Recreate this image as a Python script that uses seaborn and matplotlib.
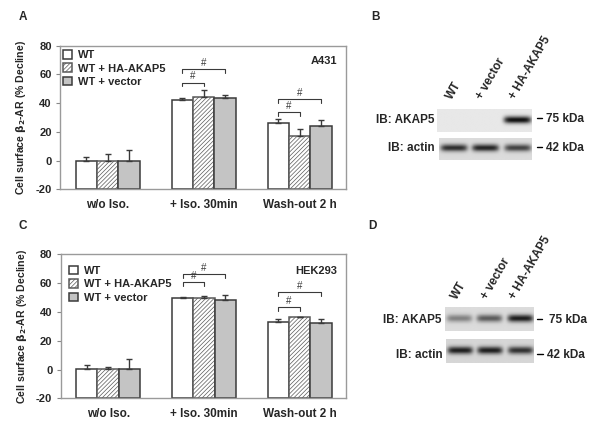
import numpy as np
import pandas as pd
import matplotlib
matplotlib.use('Agg')
import matplotlib.pyplot as plt
import seaborn as sns

# ---- data ----
conditions = ['w/o Iso.', '+ Iso. 30min', 'Wash-out 2 h']
groups = ['WT', 'WT + HA-AKAP5', 'WT + vector']

# panel A (A431)
a431_mean = {'WT': [0, 42.3, 26.4], 'WT + HA-AKAP5': [0, 44.6, 17.3], 'WT + vector': [0, 43.4, 24.1]}
a431_err = {'WT': [2.3, 1.2, 2.4], 'WT + HA-AKAP5': [4.8, 4.7, 4.7], 'WT + vector': [7.1, 2.0, 4.4]}
a431_brackets = [(1, 0, 1, 54.3), (1, 0, 2, 63.6), (2, 0, 1, 33.8), (2, 0, 2, 42.7)]

# panel C (HEK293)
hek_mean = {'WT': [0.4, 49.4, 33.0], 'WT + HA-AKAP5': [0.4, 49.7, 36.3], 'WT + vector': [0.4, 48.0, 32.3]}
hek_err = {'WT': [2.7, 1.2, 2.3], 'WT + HA-AKAP5': [1.6, 1.0, 0.5], 'WT + vector': [7.0, 3.5, 3.0]}
hek_brackets = [(1, 0, 1, 60.8), (1, 0, 2, 66.3), (2, 0, 1, 43.4), (2, 0, 2, 53.6)]

# western blot band intensities (lanes: WT, + vector, + HA-AKAP5)
lanes = ['WT', '+ vector', '+ HA-AKAP5']
blot_b_akap5 = [0.0, 0.0, 0.85]
blot_b_actin = [0.68, 0.72, 0.6]
blot_d_akap5 = [0.35, 0.5, 0.75]
blot_d_actin = [0.72, 0.72, 0.65]

W, H = 600, 437
YMIN = -20
sns.set_style('white')
plt.rcParams['font.family'] = ['Liberation Sans', 'DejaVu Sans']
plt.rcParams['hatch.linewidth'] = 0.5
plt.rcParams['axes.unicode_minus'] = False

fig = plt.figure(figsize=(W / 100, H / 100), dpi=100)
fig.patch.set_facecolor('white')


def px_rect(x0, y0, x1, y1):
    return [x0 / W, 1 - y1 / H, (x1 - x0) / W, (y1 - y0) / H]


def bar_panel(rect, means, errs, brackets, cell, cell_pos, leg_pos):
    ax = fig.add_axes(rect)
    rows = []
    for g in groups:
        for c, v in zip(conditions, means[g]):
            rows.append({'condition': c, 'group': g, 'value': v})
    df = pd.DataFrame(rows)
    sns.barplot(data=df, x='condition', y='value', hue='group', hue_order=groups,
                order=conditions, palette=['white', 'white', '#c4c4c4'],
                edgecolor='#3a3a3a', linewidth=1.1, width=0.667, errorbar=None,
                legend=False, saturation=1, ax=ax)
    bars = list(ax.containers)
    # bars in the original are drawn up from the bottom of the axis
    for cont in bars:
        for p in cont.patches:
            top = p.get_y() + p.get_height()
            p.set_y(YMIN)
            p.set_height(top - YMIN)
    for p in bars[1].patches:
        p.set_hatch('////////')
        p.set_edgecolor('#5a5a5a')
    for cont, g in zip(bars, groups):
        for p, v, e in zip(cont.patches, means[g], errs[g]):
            xc = p.get_x() + p.get_width() / 2
            ax.errorbar(xc, v, yerr=[[0], [e]], fmt='none',
                        ecolor='#3a3a3a', elinewidth=1.0, capsize=2, capthick=1.0, zorder=3)
    for ci, i, j, y in brackets:
        pi = bars[i].patches[ci]
        pj = bars[j].patches[ci]
        x1 = pi.get_x() + pi.get_width() / 2
        x2 = pj.get_x() + pj.get_width() / 2
        ax.plot([x1, x1, x2, x2], [y - 2.5, y, y, y - 2.5], color='#3a3a3a', lw=0.8)
        ax.text((x1 + x2) / 2, y + 1.0, '#', ha='center', va='bottom', fontsize=7, color='#3a3a3a')

    ax.set_xlim(-0.495, 2.484)
    ax.set_ylim(YMIN, 80)
    ax.set_yticks(range(-20, 81, 20))
    ax.set_xlabel('')
    ax.set_ylabel(r'Cell surface $\mathbf{\beta_2}$-AR (% Decline)', fontsize=7.6, fontweight='bold', labelpad=5)
    ax.tick_params(axis='y', length=3, width=0.8, color='#888888', labelsize=8, pad=3, left=True)
    ax.tick_params(axis='x', length=0, labelsize=8.5, pad=7)
    for lbl in ax.get_xticklabels() + ax.get_yticklabels():
        lbl.set_fontweight('bold')
    for s in ax.spines.values():
        s.set_visible(True)
        s.set_color('#9a9a9a')
        s.set_linewidth(1.0)
    ax.text(0.968, cell_pos, cell, transform=ax.transAxes, ha='right', va='center',
            fontsize=8, fontweight='bold')
    handles = [c.patches[0] for c in bars]
    leg = ax.legend(handles, groups, loc='upper left', bbox_to_anchor=leg_pos,
                    frameon=False, fontsize=8, handlelength=0.8, handleheight=0.8,
                    handletextpad=0.5, labelspacing=0.3, borderpad=0, borderaxespad=0)
    for t in leg.get_texts():
        t.set_fontweight('bold')
    return ax


bar_panel(px_rect(60, 45.7, 346, 189.3), a431_mean, a431_err, a431_brackets,
          'A431', 0.895, (0.012, 0.97))
bar_panel(px_rect(60.7, 254.3, 346, 398.3), hek_mean, hek_err, hek_brackets,
          'HEK293', 0.886, (0.03, 0.92))


def blot(rect, levels, bg):
    ax = fig.add_axes(rect)
    xs = np.linspace(0, 1, 160)
    ys = np.linspace(0, 1, 40)
    img = np.full((ys.size, xs.size), bg)
    for lx, lv in zip([0.16, 0.5, 0.85], levels):
        horiz = np.exp(-((xs - lx) / 0.145) ** 6)
        vert = np.exp(-((ys - 0.47) / 0.16) ** 2)
        img -= lv * np.outer(vert, horiz)
    ax.imshow(img, cmap='gray', vmin=0, vmax=1, aspect='auto', interpolation='bilinear')
    ax.set_axis_off()
    return ax


blot(px_rect(437.3, 109, 531.7, 131.7), blot_b_akap5, 0.91)
blot(px_rect(439, 137.7, 531.7, 160), blot_b_actin, 0.86)
blot(px_rect(445, 307.3, 534, 330.7), blot_d_akap5, 0.86)
blot(px_rect(446, 339.3, 534, 363.3), blot_d_actin, 0.84)

# overlay for labels in pixel units
ov = fig.add_axes([0, 0, 1, 1], zorder=-1)
ov.set_xlim(0, W)
ov.set_ylim(H, 0)
ov.set_axis_off()
ov.patch.set_alpha(0)

for txt, x, y in [('A', 23, 17), ('B', 375, 17), ('C', 23, 226), ('D', 372, 226)]:
    ov.text(x, y, txt, fontsize=8.5, fontweight='bold', ha='center', va='center')

bold = dict(fontsize=8.5, fontweight='bold')
# panel B labels
for name, x in zip(lanes, [455, 485, 518]):
    ov.text(x, 102, name, rotation=60, rotation_mode='anchor', ha='left', va='bottom', **bold)
ov.text(434, 120.3, 'IB: AKAP5', ha='right', va='center', **bold)
ov.text(434.7, 148.3, 'IB: actin', ha='right', va='center', **bold)
ov.plot([536.7, 541.7], [118.3, 118.3], color='black', lw=1)
ov.plot([536.7, 541.7], [147.3, 147.3], color='black', lw=1)
ov.text(546, 119, '75 kDa', ha='left', va='center', **bold)
ov.text(546, 148, '42 kDa', ha='left', va='center', **bold)

# panel D labels
for name, x in zip(lanes, [460, 490, 518]):
    ov.text(x, 302, name, rotation=60, rotation_mode='anchor', ha='left', va='bottom', **bold)
ov.text(441.7, 320, 'IB: AKAP5', ha='right', va='center', **bold)
ov.text(442.7, 355, 'IB: actin', ha='right', va='center', **bold)
ov.plot([536.7, 541.7], [319, 319], color='black', lw=1)
ov.plot([536.7, 543], [354, 354], color='black', lw=1)
ov.text(549, 320, '75 kDa', ha='left', va='center', **bold)
ov.text(547, 355, '42 kDa', ha='left', va='center', **bold)

fig.savefig('out.png', dpi=100, facecolor='white')
